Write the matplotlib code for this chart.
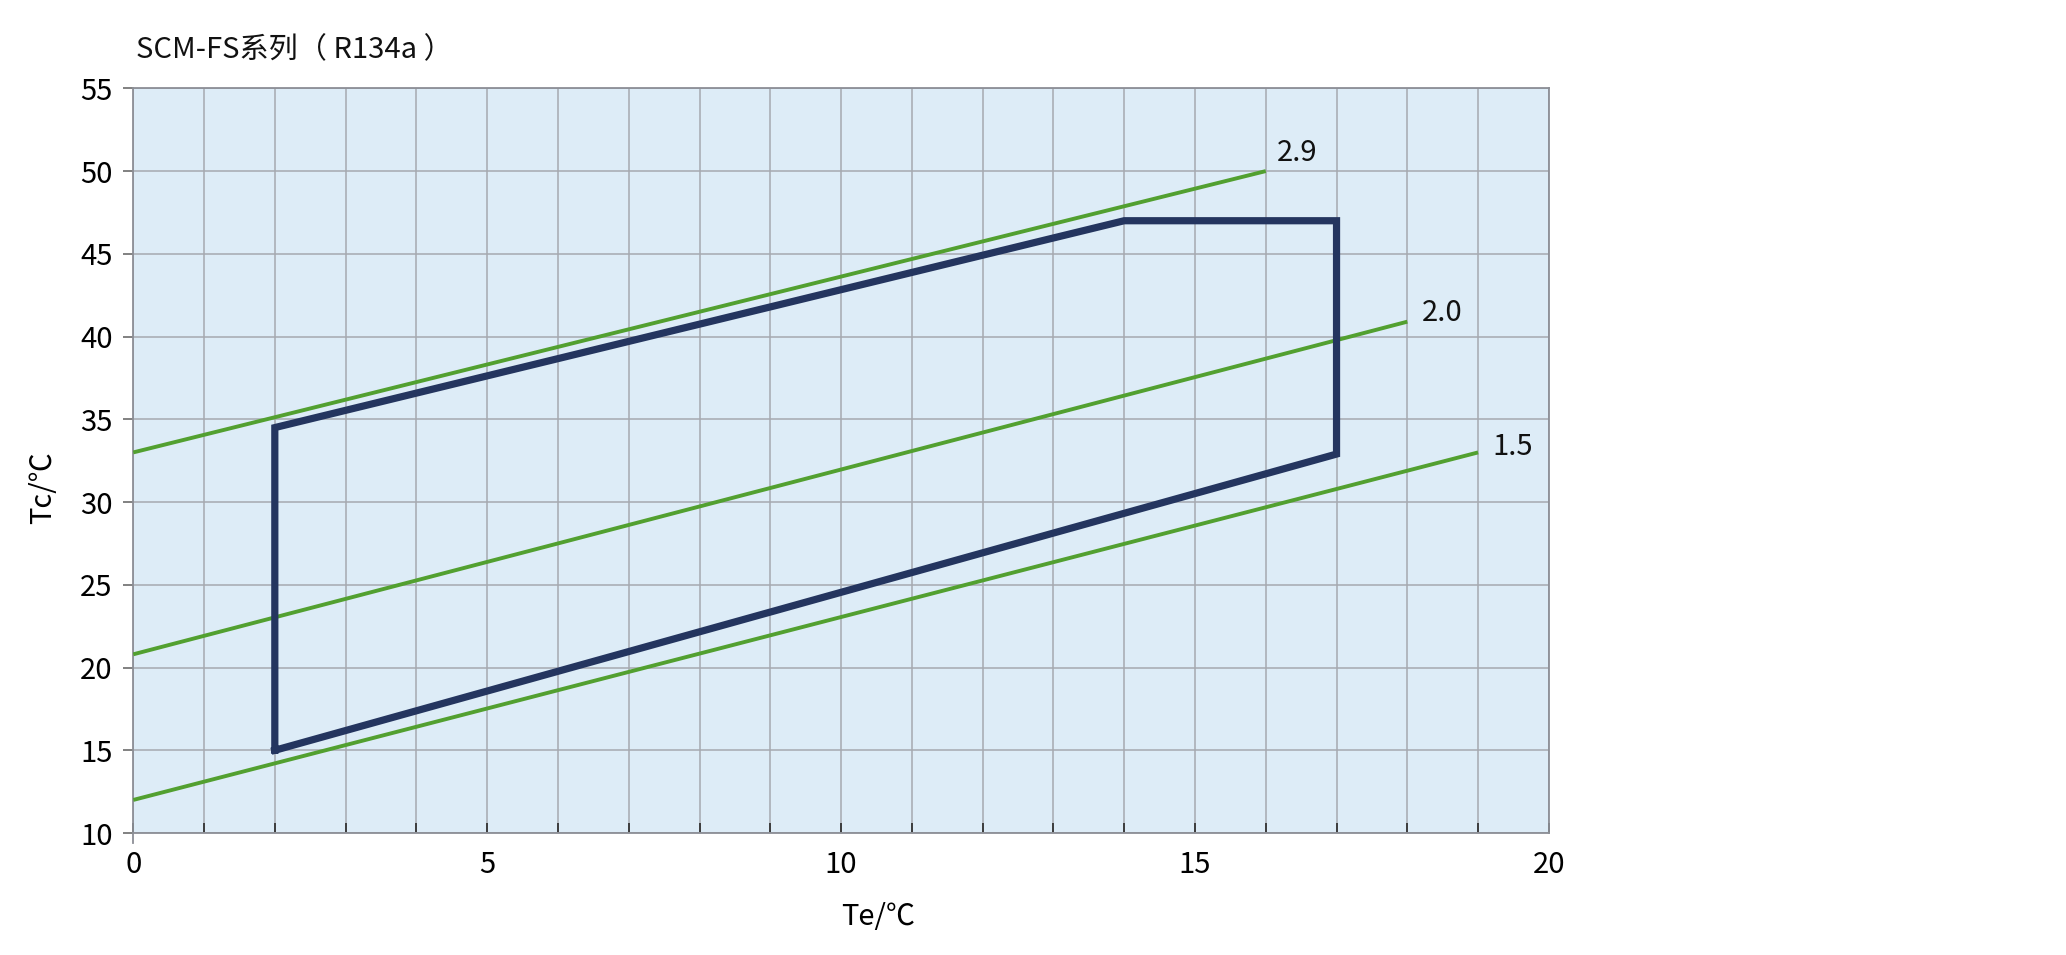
import matplotlib
matplotlib.use("Agg")
import matplotlib.pyplot as plt
from matplotlib.ticker import MultipleLocator

#-------------------------
# Datos
#-------------------------
TITLE = "SCM-FS系列（ R134a ）"
X_LABEL = "Te/℃"
Y_LABEL = "Tc/℃"

# Envolvente de funcionamiento (Te, Tc)
env_te = [2, 2, 14, 17, 17, 2]
env_tc = [15, 34.5, 47, 47, 32.9, 15]

# Rectas de relación de presión
ratio_names = ["2.9", "2.0", "1.5"]
ratio_te = [[0, 16], [0, 18], [0, 19]]
ratio_tc = [[33, 50], [20.8, 40.9], [12, 33]]
# posición de cada etiqueta (Te, Tc)
label_te = [16.15, 18.2, 19.2]
label_tc = [51.1, 41.4, 33.3]

x_ticks = [0, 5, 10, 15, 20]
y_ticks = [10, 15, 20, 25, 30, 35, 40, 45, 50, 55]

#-------------------------
# Estilo
#-------------------------
plt.rcParams["font.family"] = ["Noto Sans CJK SC", "DejaVu Sans"]
plt.rcParams["font.weight"] = "light"
FS = 21
GREEN = "#52a030"
NAVY = "#24355f"
BG = "#ddecf7"
GRID = "#a6a9b0"

fig = plt.figure(figsize=(20.66, 9.55), dpi=100)
ax = fig.add_axes([0.0645, 0.1277, 0.6852, 0.7798])
ax.set_facecolor(BG)

ax.set_xlim(0, 20)
ax.set_ylim(10, 55)

# rejilla: vertical cada 1, horizontal cada 5
ax.xaxis.set_major_locator(MultipleLocator(5))
ax.xaxis.set_minor_locator(MultipleLocator(1))
ax.set_yticks(y_ticks)
ax.set_xticks(x_ticks)
ax.grid(which="both", axis="x", color=GRID, linewidth=1.1)
ax.grid(which="major", axis="y", color=GRID, linewidth=1.1)
ax.set_axisbelow(True)

for side in ("left", "bottom", "top", "right"):
    ax.spines[side].set_color("#8c8f96")
    ax.spines[side].set_linewidth(1.3)
# el eje vertical sobresale un poco por debajo
ax.spines["left"].set_bounds(9.4, 55)

ax.tick_params(axis="x", which="both", direction="in", length=7, width=1.3,
               color="#333333", labelsize=FS, pad=12)
ax.tick_params(axis="y", which="major", direction="out", length=7, width=1.3,
               color="#777777", labelsize=FS, pad=8)

# rectas verdes
for name, xs, ys, lx, ly in zip(ratio_names, ratio_te, ratio_tc, label_te, label_tc):
    ax.plot(xs, ys, color=GREEN, linewidth=2.8, solid_capstyle="butt", zorder=3)
    ax.text(lx, ly, name, fontsize=FS, ha="left", va="center", color="#111111", zorder=5)

# envolvente
ax.plot(env_te, env_tc, color=NAVY, linewidth=5.2, solid_joinstyle="miter", zorder=4)

ax.set_xlabel(X_LABEL, fontsize=FS)
ax.set_ylabel(Y_LABEL, fontsize=FS)
ax.xaxis.set_label_coords(0.526, -0.092)
ax.yaxis.set_label_coords(-0.053, 0.464)

fig.text(136 / 2066, 1 - 58 / 955, TITLE, fontsize=FS, ha="left", va="baseline",
         color="#111111")

fig.savefig("out.png", dpi=100)
plt.close(fig)
